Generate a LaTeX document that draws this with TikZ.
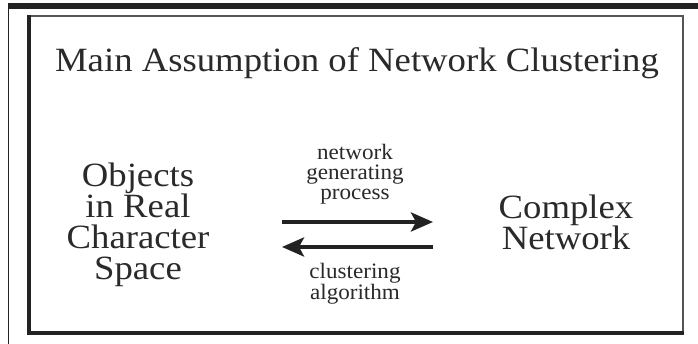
\documentclass[tikz,border=0pt]{standalone}
\usepackage{fontspec}
\setmainfont{Liberation Serif}[FakeStretch=1.05]
\newfontfamily\bigfam{Liberation Serif}[FakeStretch=1.08]
\usetikzlibrary{arrows.meta}
\definecolor{ink}{HTML}{222222}
\definecolor{txt}{HTML}{2A2A2A}
\definecolor{edge}{HTML}{555555}
\begin{document}
\begin{tikzpicture}[x=1pt,y=1pt,
  bigtext/.style={text=txt,font=\bigfam\fontsize{34}{31}\selectfont,align=center,inner sep=0pt,anchor=base},
  smalltext/.style={text=txt,font=\fontsize{22}{20}\selectfont,align=center,inner sep=0pt,anchor=base},
  flow/.style={draw=ink,line width=4pt,-{Stealth[length=22pt,width=19pt,inset=5pt]}}]
\useasboundingbox[fill=white] (0,0) rectangle (698,344);
% outer frame
\fill[ink] (8,335) rectangle (698,341);
\fill[ink] (7.8,0) rectangle (9.4,341);
% inner box
\draw[edge,line width=1.5pt] (27,328) -- (683,328) -- (683,10.5);
\fill[ink] (27,9) rectangle (684,12.5);
\fill[ink] (27,9) rectangle (30.5,328.7);
% texts
\node[bigtext] (title) at (357,272) {Main Assumption of Network Clustering};
\node[bigtext,anchor=north] (objects) at (138,181) {Objects\\in Real\\Character\\Space};
\node[bigtext,anchor=north] (complex) at (566,149) {Complex\\Network};
\node[smalltext,anchor=north] (gen) at (355,200) {network\\generating\\process};
\node[smalltext,anchor=north] (clu) at (355,81) {clustering\\algorithm};
% arrows
\coordinate (a1s) at (282,122);
\coordinate (a1e) at (433,122);
\coordinate (a2s) at (433,97);
\coordinate (a2e) at (282,97);
\draw[flow] (a1s) -- (a1e);
\draw[flow] (a2s) -- (a2e);
\end{tikzpicture}
\end{document}
